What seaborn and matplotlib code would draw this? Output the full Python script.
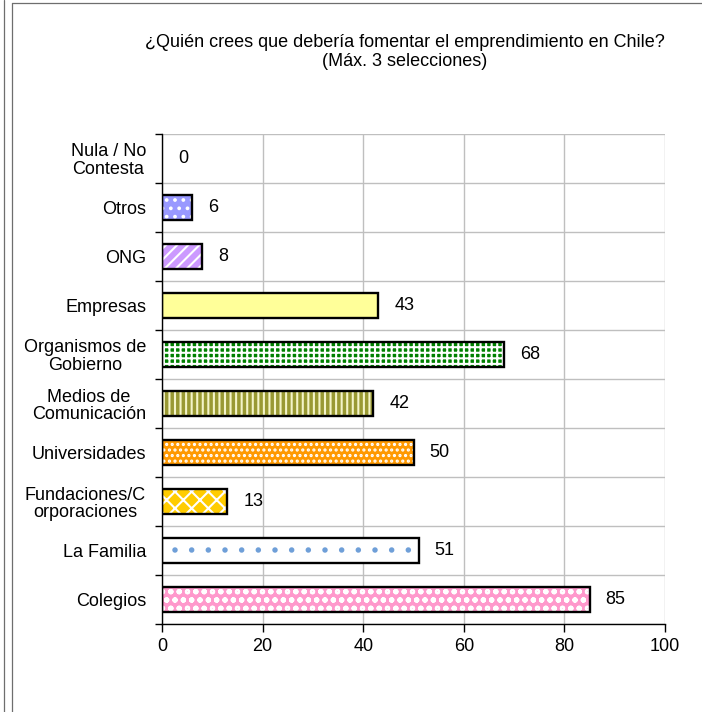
import numpy as np
import pandas as pd
import matplotlib
matplotlib.use('Agg')
import matplotlib.pyplot as plt
import seaborn as sns
from matplotlib.lines import Line2D
from matplotlib.patches import Rectangle

# survey answers, top row first
categories = ['Nula / No\nContesta', 'Otros', 'ONG', 'Empresas', 'Organismos de\nGobierno',
              'Medios de\nComunicación', 'Universidades', 'Fundaciones/C\norporaciones',
              'La Familia', 'Colegios']
values = [0, 6, 8, 43, 68, 42, 50, 13, 51, 85]
x_ticks = [0, 20, 40, 60, 80, 100]
title = '¿Quién crees que debería fomentar el emprendimiento en Chile?\n(Máx. 3 selecciones)'

# fill / pattern per bar (Excel-like pattern fills)
face_colors = ['#9999FF', '#9999FF', '#CC99FF', '#FFFF99', '#008000',
               '#999933', '#FF9900', '#FFCC00', '#FFFFFF', '#FF99CC']
hatch_colors = ['white', 'white', 'white', '#FFFF99', 'white',
                '#F4F4C8', 'white', 'white', '#6F9FD8', 'white']
hatches = ['..', '..', '///', '', '+++', '|||', '...', 'xx', '.', 'oo']

sns.set_theme(style='white')
plt.rcParams['font.family'] = ['Liberation Sans', 'DejaVu Sans']
plt.rcParams['hatch.linewidth'] = 1.5
plt.rcParams['text.color'] = 'black'
plt.rcParams['xtick.labelcolor'] = 'black'
plt.rcParams['ytick.labelcolor'] = 'black'
fs = 13

fig = plt.figure(figsize=(7.02, 7.12), dpi=100)
ax = fig.add_axes([162 / 702, 1 - 624 / 712, 503 / 702, 490 / 712])

df = pd.DataFrame({'cat': categories, 'val': values})
sns.barplot(data=df, x='val', y='cat', hue='cat', palette=face_colors, legend=False,
            width=0.5, saturation=1, linewidth=0, ax=ax)

# patterns drawn in the edge colour, then a black outline on top
for i, p in enumerate(ax.patches):
    p.set_hatch(hatches[i])
    p.set_edgecolor(hatch_colors[i])
    p.set_linewidth(0)
    if values[i] > 0:
        ax.add_patch(Rectangle(p.get_xy(), p.get_width(), p.get_height(), fill=False,
                               ec='black', lw=1.7, zorder=p.get_zorder() + 0.1))

for i, v in enumerate(values):
    ax.annotate(str(v), xy=(v, i), xytext=(11.5, 0), textcoords='offset points',
                va='center', ha='left', fontsize=fs, color='black')

ax.set_xlim(0, 100)
ax.set_ylim(9.5, -0.5)
ax.set_xticks(x_ticks)
ax.set_yticks(np.arange(-0.5, 10, 1), minor=True)
ax.set_yticks(range(len(categories)))
ax.set_yticklabels(categories, fontsize=fs, linespacing=1.05)
for t in ax.get_yticklabels():
    t.set_multialignment('center')
ax.tick_params(axis='x', labelsize=fs, bottom=True, length=6, width=1, color='black', pad=4)
ax.tick_params(axis='y', which='major', left=True, length=0, pad=11.5)
ax.tick_params(axis='y', which='minor', left=True, length=5, width=1, color='black')
ax.set_xlabel('')
ax.set_ylabel('')

ax.set_axisbelow(True)
ax.grid(axis='x', which='major', color='#BFBFBF', lw=1)
ax.grid(axis='y', which='minor', color='#BFBFBF', lw=1)
ax.grid(axis='y', which='major', visible=False)
for s in ['top', 'right']:
    ax.spines[s].set_visible(False)
for s in ['left', 'bottom']:
    ax.spines[s].set_color('black')
    ax.spines[s].set_linewidth(1)

fig.text(405 / 702, 1 - 52 / 712, title, ha='center', va='center', fontsize=fs,
         linespacing=1.1)

# outer chart frame
frame = '#6E6E6E'
fig.add_artist(Line2D([3.5 / 702, 3.5 / 702], [0, 1], color=frame, lw=0.9))
fig.add_artist(Line2D([11.5 / 702, 11.5 / 702], [0, 1 - 2.5 / 712], color=frame, lw=0.9))
fig.add_artist(Line2D([11.5 / 702, 1], [1 - 2.5 / 712, 1 - 2.5 / 712], color=frame, lw=0.9))

fig.savefig('out.png', dpi=100)
